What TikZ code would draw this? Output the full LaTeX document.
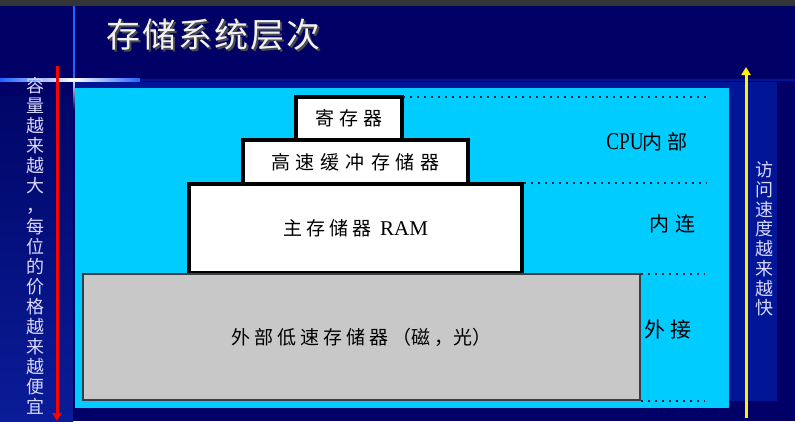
\documentclass[tikz,border=0pt]{standalone}
\usepackage{fontspec}
\setmainfont{Liberation Serif}
\newfontfamily\cjk{Noto Sans CJK SC}
\newfontfamily\condserif[FakeStretch=0.8]{Liberation Serif}
\usetikzlibrary{arrows.meta}

\definecolor{navy}{RGB}{0,0,102}
\definecolor{topbar}{RGB}{50,53,56}
\definecolor{panelblue}{RGB}{0,22,150}
\definecolor{skycyan}{RGB}{0,204,255}
\definecolor{diskgray}{RGB}{200,200,200}
\definecolor{stripdark}{RGB}{0,6,104}
\definecolor{striplight}{RGB}{10,28,152}
\definecolor{glowblue}{RGB}{30,100,255}
\definecolor{sidetext}{RGB}{215,215,255}
\definecolor{edgegray}{RGB}{60,60,70}
\definecolor{dotdark}{RGB}{25,40,60}

% gap between spaced-out characters
\newcommand\gp{\kern5pt}

\tikzset{
  level/.style={draw=black, line width=3.5pt, fill=white, inner sep=0pt,
    font=\cjk\fontsize{19}{19}\selectfont},
  extbox/.style={draw=edgegray, line width=1.2pt, fill=diskgray, inner sep=0pt,
    font=\cjk\fontsize{19}{19}\selectfont},
  zone/.style={font=\cjk\fontsize{20}{20}\selectfont, text=black},
  divider/.style={draw=dotdark, line width=1.2pt, dash pattern=on 2pt off 5pt},
  sidelabel/.style={align=center, text=sidetext, inner sep=0pt},
  trend/.style={line width=3pt, -{Triangle[width=9pt,length=8pt]}}
}

\begin{document}
\begin{tikzpicture}[x=1pt,y=-1pt]
\useasboundingbox (0,0) rectangle (795,421);

% background
\fill[navy] (0,0) rectangle (795,421);
\fill[topbar] (0,0) rectangle (795,6);

% left strip
\shade[top color=stripdark, bottom color=striplight] (0,96) rectangle (73,421);

% thin rule under the title
\fill[panelblue] (0,78.5) rectangle (795,80.5);

% glowing cross at the top left
\fill[glowblue] (73.3,6) rectangle (75.3,82);
\shade[left color=glowblue, right color=white] (0,78.5) rectangle (74,81.5);
\shade[left color=white, right color=glowblue] (74,78.5) rectangle (140,81.5);
\shade[top color=white!80!glowblue, bottom color=navy] (73.3,81) rectangle (75.3,110);

% panels
\fill[panelblue] (75,82) rectangle (777,401);
\fill[skycyan] (75,88) rectangle (729,408);

% title with drop shadow
\node[text=black!70, font=\cjk\fontsize{34}{34}\selectfont, inner sep=0pt]
  (titleshadow) at (215.5,36.5) {存\kern2pt 储\kern2pt 系\kern2pt 统\kern2pt 层\kern2pt 次};
\node[text=white!95!black, font=\cjk\fontsize{34}{34}\selectfont, inner sep=0pt]
  (title) at (213.5,34.5) {存\kern2pt 储\kern2pt 系\kern2pt 统\kern2pt 层\kern2pt 次};

% storage levels
\node[level, minimum width=106pt, minimum height=43pt] (reg) at (349,118.5)
  {寄\gp 存\gp 器};
\node[level, minimum width=225pt, minimum height=44pt] (cache) at (355.5,162)
  {高\kern6pt 速\kern6pt 缓\kern6pt 冲\kern6pt 存\kern6pt 储\kern6pt 器};
\node[level, minimum width=333pt, minimum height=89pt] (main) at (355.5,228.5)
  {\cjk 主\kern4pt 存\kern4pt 储\kern4pt 器\kern9pt{\rmfamily\fontsize{21}{21}\selectfont RAM}};
\node[extbox, minimum width=557pt, minimum height=126pt] (ext) at (361.5,337)
  {外\kern4pt 部\kern4pt 低\kern4pt 速\kern4pt 存\kern4pt 储\kern4pt 器\kern4pt （磁\kern4pt ，光）};

% zone dividers
\coordinate (d1a) at (403,97);  \coordinate (d1b) at (707,97);
\coordinate (d2a) at (524,183); \coordinate (d2b) at (707,183);
\coordinate (d3a) at (641,274); \coordinate (d3b) at (705,274);
\coordinate (d4a) at (641,401); \coordinate (d4b) at (705,401);
\draw[divider] (d1a) -- (d1b);
\draw[divider] (d2a) -- (d2b);
\draw[divider] (d3a) -- (d3b);
\draw[divider] (d4a) -- (d4b);

% zone labels
\node[zone] (cpu) at (647,142)
  {{\condserif\fontsize{24}{24}\selectfont CPU}\kern-1pt 内\kern5pt 部};
\node[zone] (inner) at (672,224) {内\kern6pt 连};
\node[zone, font=\cjk\fontsize{21}{21}\selectfont] (outer) at (668,330) {外\kern5pt 接};

% capacity / cost trend on the left
\coordinate (redtop) at (57,66);
\coordinate (redbot) at (57,421);
\draw[trend, red] (redtop) -- (redbot);
\node[sidelabel, font=\cjk\fontsize{18}{20.1}\selectfont] (costtext) at (35,246)
  {容\\量\\越\\来\\越\\大\\，\\每\\位\\的\\价\\格\\越\\来\\越\\便\\宜};

% access speed trend on the right
\coordinate (yelbot) at (746,418);
\coordinate (yeltop) at (746,67);
\draw[trend, yellow] (yelbot) -- (yeltop);
\node[sidelabel, font=\cjk\fontsize{18}{19.7}\selectfont] (speedtext) at (764,239)
  {访\\问\\速\\度\\越\\来\\越\\快};

\end{tikzpicture}
\end{document}
